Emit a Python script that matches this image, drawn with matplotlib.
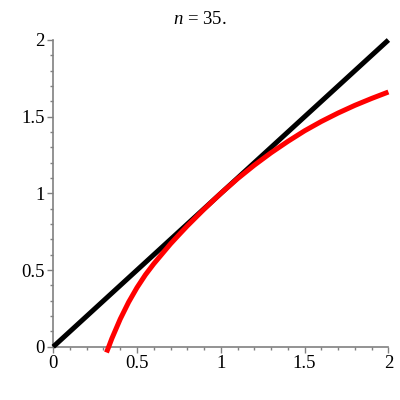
import matplotlib
matplotlib.use("Agg")
import matplotlib.pyplot as plt
from matplotlib.ticker import MultipleLocator, FuncFormatter

plt.rcParams["font.family"] = ["Liberation Serif", "DejaVu Serif"]
plt.rcParams["mathtext.fontset"] = "custom"
plt.rcParams["mathtext.it"] = "Liberation Serif:italic"
plt.rcParams["mathtext.rm"] = "Liberation Serif"

# values
line_x = [0.0, 2.0]
line_y = [0.0, 2.0]
red_x = [0.318, 0.333, 0.35, 0.40, 0.45, 0.50, 0.55, 0.60, 0.65, 0.70, 0.75, 0.80,
         0.90, 1.0, 1.1, 1.2, 1.3, 1.4, 1.5, 1.6, 1.7, 1.8, 1.9, 2.0]
red_y = [-0.037, 0.005, 0.054, 0.181, 0.291, 0.386, 0.469, 0.541, 0.606, 0.671, 0.730, 0.788,
         0.897, 1.0, 1.096, 1.184, 1.265, 1.339, 1.408, 1.469, 1.524, 1.574, 1.619, 1.661]
major_ticks = [0, 0.5, 1, 1.5, 2]
title_n = "35."

fig = plt.figure(figsize=(4, 4), dpi=100)
ax = fig.add_axes([0.133, 0.133, 0.838, 0.767])
ax.set_xlim(0, 2); ax.set_ylim(0, 2)

ax.plot(line_x, line_y, color="black", lw=3.6, solid_capstyle="butt", zorder=3, clip_on=False)
ax.plot(red_x, red_y, color="#ff0000", lw=3.6, solid_capstyle="butt",
        solid_joinstyle="round", zorder=4, clip_on=False)

for s in ["top", "right"]:
    ax.spines[s].set_visible(False)
for s in ["left", "bottom"]:
    ax.spines[s].set_color("#808080"); ax.spines[s].set_linewidth(1.2)

ax.set_xticks(major_ticks); ax.set_yticks(major_ticks)
fmt = FuncFormatter(lambda v, p: ("%g" % v))
ax.xaxis.set_major_formatter(fmt); ax.yaxis.set_major_formatter(fmt)
ax.xaxis.set_minor_locator(MultipleLocator(0.1))
ax.yaxis.set_minor_locator(MultipleLocator(0.1))
ax.tick_params(which="major", length=4, width=1, color="#808080", direction="out",
               labelsize=13.5, labelcolor="black", pad=2)
ax.tick_params(which="minor", length=2.5, width=1, color="#808080", direction="out")

fig.text(0.5, 0.952, r"$n$" + " = " + title_n, ha="center", va="center", fontsize=13.5)

fig.savefig("out.png", dpi=100)
